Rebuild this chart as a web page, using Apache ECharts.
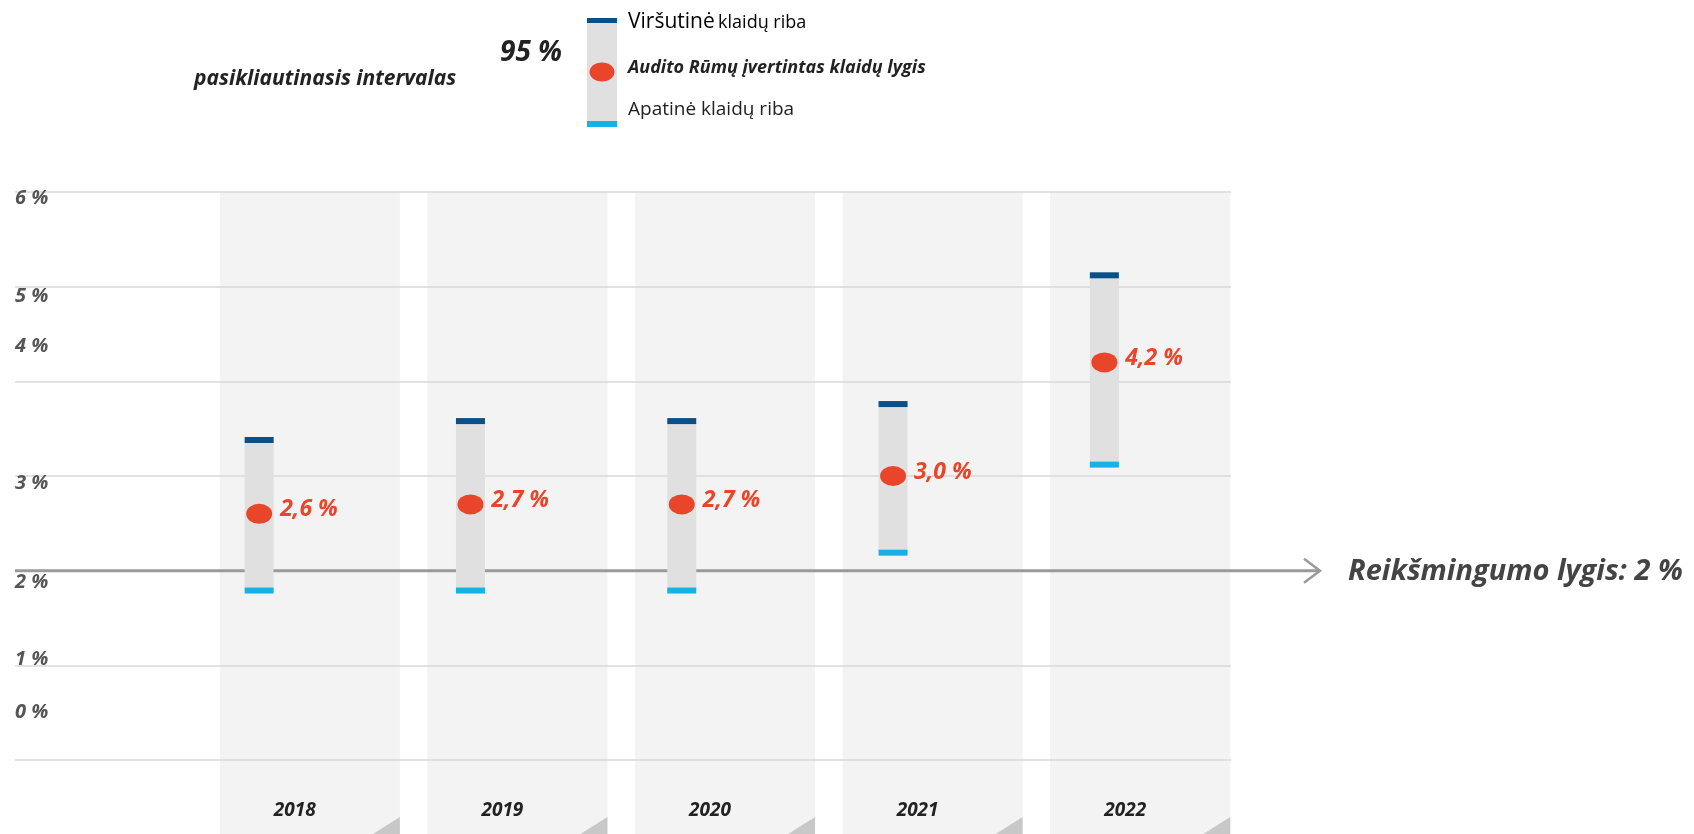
<!DOCTYPE html>
<html>
<head>
<meta charset="utf-8">
<title>Klaidų lygis</title>
<script src="https://cdn.jsdelivr.net/npm/echarts@6/dist/echarts.min.js"></script>
<style>
  html, body { margin: 0; padding: 0; background: #fff; }
  #board { width: 1694px; height: 834px; }
</style>
</head>
<body>
<div id="board"></div>
<script>
// duomenys
const years = ['2018', '2019', '2020', '2021', '2022'];
const estimate = [2.6, 2.7, 2.7, 3.0, 4.2];
const upperBound = [3.38, 3.58, 3.58, 3.76, 5.12];
const lowerBound = [1.79, 1.79, 1.79, 2.19, 3.12];
const yTicks = [0, 1, 2, 3, 4, 5, 6];
const materiality = 2;

const FONT = '"Open Sans", Lato, sans-serif';

// y labels are placed loosely in the original, shift each one a bit
const yLabelRich = {
  l0: { padding: [0, 0, 96, 0] },
  l1: { padding: [0, 0, 12, 0] },
  l2: { padding: [24, 0, 0, 0] },
  l3: { padding: [14, 0, 0, 0] },
  l4: { padding: [0, 0, 70, 0] },
  l5: { padding: [20, 0, 0, 0] },
  l6: { padding: [12, 0, 0, 0] }
};

function fmt(v) {
  return v.toFixed(1).replace('.', ',') + ' %';
}

let myChart = echarts.init(document.getElementById('board'));

myChart.setOption({
  animation: false,
  grid: [
    { left: 15, right: 463, top: 192, bottom: 74 },     // gridlines + threshold
    { left: 206, right: 450, top: 192, bottom: 74 },    // year columns
    { left: 153.5, right: 484, top: 192, bottom: 74 }   // intervals + dots
  ],
  xAxis: [
    { gridIndex: 0, type: 'value', min: 0, max: 1, show: false },
    {
      gridIndex: 1,
      type: 'category',
      data: years,
      axisLine: { show: false },
      axisTick: { show: false },
      axisLabel: {
        margin: 41,
        padding: [0, 30, 0, 0],
        fontFamily: FONT,
        fontStyle: 'italic',
        fontWeight: 'bold',
        fontSize: 19,
        color: '#222'
      }
    },
    { gridIndex: 2, type: 'category', data: years, show: false }
  ],
  yAxis: [
    {
      gridIndex: 0,
      type: 'value',
      min: yTicks[0],
      max: yTicks[yTicks.length - 1],
      interval: 1,
      axisLine: { show: false },
      axisTick: { show: false },
      splitLine: { lineStyle: { color: '#d9d9d9', width: 1.5 } },
      axisLabel: {
        inside: true,
        align: 'left',
        margin: 0,
        fontFamily: FONT,
        fontStyle: 'italic',
        fontWeight: 'bold',
        fontSize: 20,
        color: '#555',
        formatter: v => '{l' + v + '|' + v + ' %}',
        rich: yLabelRich
      }
    },
    { gridIndex: 1, type: 'value', min: 0, max: 6, interval: 1, show: false },
    { gridIndex: 2, type: 'value', min: 0, max: 6, interval: 1, show: false }
  ],
  graphic: [
    {
      type: 'text', left: 500, top: 39,
      style: { text: '95 %', font: 'italic bold 28px ' + FONT, fill: '#222' }
    },
    {
      type: 'text', left: 194, top: 69,
      style: { text: 'pasikliautinasis intervalas', font: 'italic bold 21px ' + FONT, fill: '#222' }
    },
    { type: 'rect', shape: { x: 587, y: 18, width: 30, height: 107 }, style: { fill: '#e0e0e0' } },
    { type: 'rect', shape: { x: 587, y: 18, width: 30, height: 5 }, style: { fill: '#0b4f86' } },
    { type: 'rect', shape: { x: 587, y: 121, width: 30, height: 6 }, style: { fill: '#16b2e6' } },
    { type: 'ellipse', shape: { cx: 602, cy: 72, rx: 12.5, ry: 9.5 }, style: { fill: '#e8452b' } },
    {
      type: 'text', left: 628, top: 12,
      style: {
        text: '{a|Viršutinė} {b|klaidų riba}',
        rich: {
          a: { fontFamily: FONT, fontSize: 21, color: '#222' },
          b: { fontFamily: FONT, fontSize: 18, color: '#222' }
        }
      }
    },
    {
      type: 'text', left: 628, top: 59,
      style: { text: 'Audito Rūmų įvertintas klaidų lygis', font: 'italic bold 18px ' + FONT, fill: '#222' }
    },
    {
      type: 'text', left: 628, top: 100,
      style: { text: 'Apatinė klaidų riba', font: '19px ' + FONT, fill: '#222' }
    }
  ],
  series: [
    {
      // grey year columns
      type: 'custom',
      xAxisIndex: 1,
      yAxisIndex: 1,
      z: -1,
      silent: true,
      data: years.map((y, i) => [i]),
      encode: { x: 0 },
      renderItem: (params, api) => {
        const idx = api.value(0);
        const top = api.coord([idx, 6]);
        const w = api.size([1, 0])[0] - 27.5;
        const left = top[0] - w / 2;
        const right = top[0] + w / 2;
        const H = api.getHeight();
        return {
          type: 'group',
          children: [
            { type: 'rect', shape: { x: left, y: top[1], width: w, height: H - top[1] }, style: { fill: '#f3f3f3' } },
            { type: 'polygon', shape: { points: [[right - 27, H], [right, H - 17], [right, H]] }, style: { fill: '#c8c8c8' } }
          ]
        };
      }
    },
    {
      // materiality line with arrow
      type: 'custom',
      xAxisIndex: 0,
      yAxisIndex: 0,
      z: 1,
      silent: true,
      data: [[0, materiality]],
      renderItem: (params, api) => {
        const v = api.value(1);
        const p0 = api.coord([0, v]);
        const p1 = api.coord([1, v]);
        const tip = p1[0] + 89;
        const y = p0[1];
        return {
          type: 'group',
          children: [
            { type: 'line', shape: { x1: p0[0], y1: y, x2: tip, y2: y }, style: { stroke: '#9a9a9a', lineWidth: 3 } },
            { type: 'polyline', shape: { points: [[tip - 16, y - 12], [tip, y], [tip - 16, y + 12]] }, style: { stroke: '#9a9a9a', lineWidth: 2.5, fill: null } },
            {
              type: 'text',
              style: {
                x: tip + 28, y: y + 1,
                text: 'Reikšmingumo lygis: ' + v + ' %',
                font: 'italic bold 29px ' + FONT,
                fill: '#444',
                verticalAlign: 'middle'
              }
            }
          ]
        };
      }
    },
    {
      // confidence interval bars
      type: 'custom',
      xAxisIndex: 2,
      yAxisIndex: 2,
      z: 2,
      data: years.map((y, i) => [i, lowerBound[i], upperBound[i]]),
      encode: { x: 0, y: [1, 2] },
      renderItem: (params, api) => {
        const idx = api.value(0);
        const lo = api.coord([idx, api.value(1)]);
        const hi = api.coord([idx, api.value(2)]);
        const w = 29;
        const x = hi[0] - w / 2;
        return {
          type: 'group',
          children: [
            { type: 'rect', shape: { x: x, y: hi[1], width: w, height: lo[1] - hi[1] }, style: { fill: '#e0e0e0' } },
            { type: 'rect', shape: { x: x, y: hi[1] - 3, width: w, height: 6 }, style: { fill: '#0b4f86' } },
            { type: 'rect', shape: { x: x, y: lo[1] - 3, width: w, height: 6 }, style: { fill: '#16b2e6' } }
          ]
        };
      }
    },
    {
      type: 'scatter',
      xAxisIndex: 2,
      yAxisIndex: 2,
      z: 3,
      data: estimate,
      symbol: 'circle',
      symbolSize: [26, 20],
      itemStyle: { color: '#e8452b', opacity: 1 },
      label: {
        show: true,
        position: 'right',
        distance: 8,
        offset: [0, -4],
        formatter: p => fmt(p.value),
        fontFamily: FONT,
        fontStyle: 'italic',
        fontWeight: 'bold',
        fontSize: 23,
        color: '#e8452b'
      }
    }
  ]
});
</script>
</body>
</html>
